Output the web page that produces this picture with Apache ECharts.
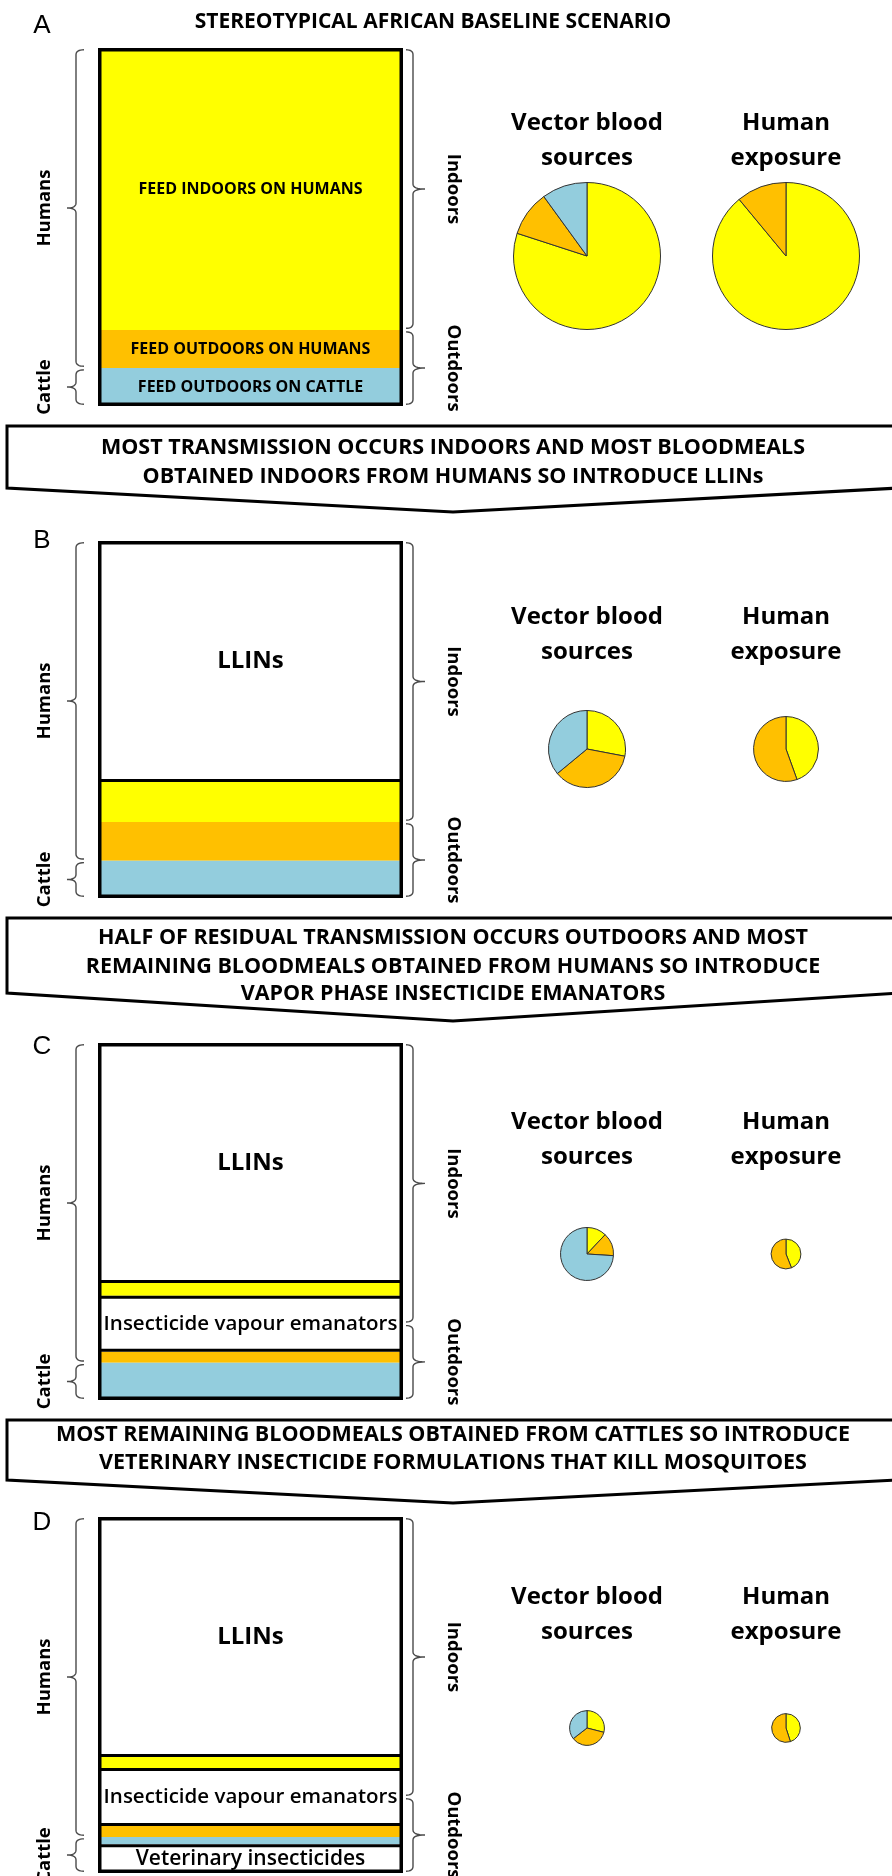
<!DOCTYPE html>
<html><head><meta charset="utf-8">
<script src="https://cdn.jsdelivr.net/npm/echarts@6/dist/echarts.min.js"></script>
<style>html,body{margin:0;padding:0;background:#fff}#c{width:892px;height:1876px}</style>
</head><body><div id="c"></div>
<script>
// ---------------- data ----------------
const panelLetters = ['A', 'B', 'C', 'D'];
const headline = 'STEREOTYPICAL AFRICAN BASELINE SCENARIO';

// box segments, top to bottom, share of the box height (%)
const segA = ['Indoor human', 'Outdoor human', 'Cattle'];
const valA = [78.8, 10.6, 10.6];
const txtA = ['FEED INDOORS ON HUMANS', 'FEED OUTDOORS ON HUMANS', 'FEED OUTDOORS ON CATTLE'];

const segB = ['LLINs', 'Indoor human', 'Outdoor human', 'Cattle'];
const valB = [67.5, 11.2, 10.9, 10.4];
const txtB = ['LLINs', '', '', ''];

const segC = ['LLINs', 'Indoor human', 'Emanators', 'Outdoor human', 'Cattle'];
const valC = [67.2, 3.6, 15.7, 3.1, 10.4];
const txtC = ['LLINs', '', 'Insecticide vapour emanators', '', ''];

const segD = ['LLINs', 'Indoor human', 'Emanators', 'Outdoor human', 'Cattle', 'Veterinary'];
const valD = [67.4, 3.1, 16.3, 3.1, 2.0, 8.1];
const txtD = ['LLINs', '', 'Insecticide vapour emanators', '', '', 'Veterinary insecticides'];

const hostLabels = ['Humans', 'Cattle'];
const placeLabels = ['Indoors', 'Outdoors'];

// pies
const pieTitles = [['Vector blood', 'sources'], ['Human', 'exposure']];
const bloodParts = ['Indoor human', 'Outdoor human', 'Cattle'];
const bloodSources = [[80, 10, 10], [28, 36, 36], [12, 14, 74], [29, 35.5, 35.5]];
const exposureParts = ['Indoor human', 'Outdoor human'];
const humanExposure = [[89, 11], [44.5, 55.5], [44, 56], [45, 55]];
const bloodSize = [100, 27.5, 13, 5.6];      // relative pie area (%)
const exposureSize = [100, 19.5, 4.1, 3.8];  // relative pie area (%)

// arrows between panels
const banner1 = ['MOST TRANSMISSION OCCURS INDOORS AND MOST BLOODMEALS', 'OBTAINED INDOORS FROM HUMANS SO INTRODUCE LLINs'];
const banner2 = ['HALF OF RESIDUAL TRANSMISSION OCCURS OUTDOORS AND MOST', 'REMAINING BLOODMEALS OBTAINED FROM HUMANS SO INTRODUCE', 'VAPOR PHASE INSECTICIDE EMANATORS'];
const banner3 = ['MOST REMAINING BLOODMEALS OBTAINED FROM CATTLES SO INTRODUCE', 'VETERINARY INSECTICIDE FORMULATIONS THAT KILL MOSQUITOES'];

// ---------------- styles / layout ----------------
const KIND = {
  'Indoor human':  { color: '#FFFF00', host: 'H', place: 'I' },
  'Outdoor human': { color: '#FFC000', host: 'H', place: 'O' },
  'Cattle':        { color: '#93CDDD', host: 'C', place: 'O' },
  'LLINs':         { color: '#FFFFFF', host: 'H', place: 'I', iv: true, fs: 24, fw: 'bold' },
  'Emanators':     { color: '#FFFFFF', host: 'H', place: 'IO', iv: true, fs: 20.5, fw: 600 },
  'Veterinary':    { color: '#FFFFFF', host: 'C', place: 'O', iv: true, fs: 21, fw: 600 }
};
const FONT = '"Open Sans", "DejaVu Sans", sans-serif';
const segs = [segA, segB, segC, segD];
const vals = [valA, valB, valC, valD];
const txts = [txtA, txtB, txtC, txtD];

const GL = 98, GW = 305;
const gTop = [48, 541, 1043, 1517];
const gH = [358, 357, 357, 356];
const letterY = [26, 541, 1047, 1523];
const pieTitleY = [123, 617, 1122, 1597];
const pieY = [256, 749, 1254, 1728];
const pieX = [587, 786];
const R0 = 73.5;

const chart = echarts.init(document.getElementById('c'), null, { renderer: 'canvas' });

const grid = [], xAxis = [], yAxis = [], series = [];
segs.forEach((seg, i) => {
  grid.push({ left: GL, top: gTop[i], width: GW, height: gH[i] });
  xAxis.push({ type: 'category', gridIndex: i, data: ['box'], show: false });
  yAxis.push({ type: 'value', gridIndex: i, min: 0, max: 100, inverse: true, show: false });
  seg.forEach((k, j) => {
    const st = KIND[k];
    const t = txts[i][j];
    series.push({
      type: 'bar', name: k, xAxisIndex: i, yAxisIndex: i, stack: 'box' + i,
      barWidth: '100%', silent: true, z: st.iv ? 4 : 2,
      data: [vals[i][j]],
      itemStyle: { color: st.color, borderColor: st.iv ? '#000' : st.color, borderWidth: st.iv ? 3 : 0 },
      label: {
        show: !!t, position: 'inside', formatter: t, color: '#000',
        fontFamily: FONT, fontSize: st.fs || 16, fontWeight: st.fw || 'bold'
      }
    });
  });
  series.push({
    type: 'bar', name: 'outline', xAxisIndex: i, yAxisIndex: i, barGap: '-100%',
    barWidth: '100%', silent: true, z: 6, data: [100],
    itemStyle: { color: 'rgba(0,0,0,0)', borderColor: '#000', borderWidth: 3.5 }
  });
  // pies
  const mk = (parts, v) => parts.map((p, j) => ({ name: p, value: v[j], itemStyle: { color: KIND[p].color } })).filter(d => d.value > 0);
  series.push({
    type: 'pie', name: 'Vector blood sources ' + panelLetters[i], center: [pieX[0], pieY[i]],
    radius: R0 * Math.sqrt(bloodSize[i] / 100), startAngle: 90, clockwise: true, silent: true,
    label: { show: false }, labelLine: { show: false },
    itemStyle: { borderColor: '#333', borderWidth: 1 }, data: mk(bloodParts, bloodSources[i])
  });
  series.push({
    type: 'pie', name: 'Human exposure ' + panelLetters[i], center: [pieX[1], pieY[i]],
    radius: R0 * Math.sqrt(exposureSize[i] / 100), startAngle: 90, clockwise: true, silent: true,
    label: { show: false }, labelLine: { show: false },
    itemStyle: { borderColor: '#333', borderWidth: 1 }, data: mk(exposureParts, humanExposure[i])
  });
});

chart.setOption({ animation: false, backgroundColor: '#fff', grid, xAxis, yAxis, series });

// ---------------- annotations ----------------
const G = [];
function txt(x, y, s, size, weight, rot, family) {
  G.push({
    type: 'text', x, y, rotation: rot || 0, z: 20, silent: true,
    style: {
      text: s, fill: '#000', fontSize: size, fontWeight: weight, fontFamily: family || FONT,
      align: 'center', verticalAlign: 'middle', textAlign: 'center', textVerticalAlign: 'middle'
    }
  });
}
function quad(p0, c, p1, out) {
  for (let s = 1; s <= 8; s++) {
    const t = s / 8, u = 1 - t;
    out.push([u * u * p0[0] + 2 * u * t * c[0] + t * t * p1[0], u * u * p0[1] + 2 * u * t * c[1] + t * t * p1[1]]);
  }
}
function brace(xb, y1, y2, tipDx, endDx) {
  const ym = (y1 + y2) / 2, r = 5;
  const pts = [[xb + endDx, y1]];
  quad([xb + endDx, y1], [xb, y1], [xb, y1 + r], pts);
  pts.push([xb, ym - r]);
  quad([xb, ym - r], [xb, ym], [xb + tipDx, ym], pts);
  quad([xb + tipDx, ym], [xb, ym], [xb, ym + r], pts);
  pts.push([xb, y2 - r]);
  quad([xb, y2 - r], [xb, y2], [xb + endDx, y2], pts);
  G.push({ type: 'polyline', z: 15, silent: true, shape: { points: pts },
    style: { fill: null, stroke: '#4a4a4a', lineWidth: 1.4 } });
}

segs.forEach((seg, i) => {
  let hEnd = 0, iEnd = 0;
  seg.forEach((k, j) => {
    const st = KIND[k];
    if (st.host === 'H') hEnd += vals[i][j];
    if (st.place === 'I') iEnd += vals[i][j];
    if (st.place === 'IO') iEnd += vals[i][j] / 2;
  });
  const yp = v => chart.convertToPixel({ yAxisIndex: i }, v);
  const g = 1.8;
  const hostR = [[yp(0) + g, yp(hEnd) - g], [yp(hEnd) + g, yp(100) - g]];
  const placeR = [[yp(0) + g, yp(iEnd) - g], [yp(iEnd) + g, yp(100) - g]];
  hostR.forEach((r, k) => {
    brace(76, r[0], r[1], -9, 8);
    txt(45, (r[0] + r[1]) / 2, hostLabels[k], 18.5, 'bold', Math.PI / 2);
  });
  placeR.forEach((r, k) => {
    brace(413, r[0], r[1], 12, -7);
    txt(453, (r[0] + r[1]) / 2, placeLabels[k], 18.5, 'bold', -Math.PI / 2);
  });
  txt(42, letterY[i], panelLetters[i], 26, 'normal', 0, '"Liberation Sans", Arial, sans-serif');
  pieTitles.forEach((lines, k) => {
    txt(pieX[k], pieTitleY[i], lines[0], 24, 'bold');
    txt(pieX[k], pieTitleY[i] + 35, lines[1], 24, 'bold');
  });
});
txt(433, 22, headline, 21, 'bold');

const banners = [banner1, banner2, banner3];
const bTop = [426, 918, 1420], bSide = [488, 993, 1480], bTip = [512, 1021, 1503];
const bLineY = [[448, 477], [938, 967, 994], [1435, 1463]];
banners.forEach((lines, b) => {
  G.push({ type: 'polygon', z: 10, silent: true,
    shape: { points: [[7, bTop[b]], [899, bTop[b]], [899, bSide[b]], [453, bTip[b]], [7, bSide[b]]] },
    style: { fill: '#fff', stroke: '#000', lineWidth: 3 } });
  lines.forEach((s, l) => txt(453, bLineY[b][l], s, 21.5, 'bold'));
});

chart.setOption({ graphic: { elements: G } });
</script>
</body></html>
